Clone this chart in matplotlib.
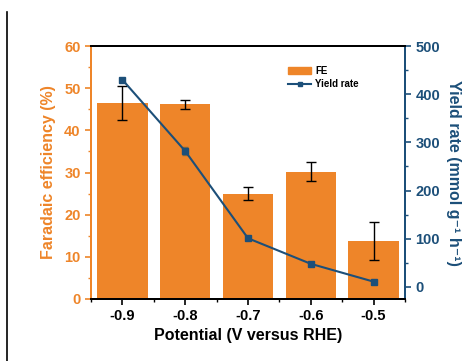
import matplotlib
matplotlib.use("Agg")
import matplotlib.pyplot as plt
from matplotlib.ticker import MultipleLocator
from matplotlib.lines import Line2D

plt.rcParams['font.family'] = ['Liberation Sans', 'DejaVu Sans']
plt.rcParams['font.weight'] = 'bold'

potentials = [-0.9, -0.8, -0.7, -0.6, -0.5]
fe = [46.5, 46.2, 25.0, 30.2, 13.8]
fe_err = [4.0, 1.1, 1.6, 2.2, 4.5]
yield_rate = [430, 282, 101, 48, 11]
yield_err = [4, 8, 3, 3, 3]

orange = '#EE8529'
blue = '#1C4F79'

fig = plt.figure(figsize=(4.64, 3.61), dpi=100)
ax = fig.add_axes([91/464, 1-299/361, (405-91)/464, (299-46)/361])
ax2 = ax.twinx()

ax.bar(potentials, fe, width=0.08, color=orange, zorder=2, label='FE')
ax.errorbar(potentials, fe, yerr=fe_err, fmt='none', ecolor='black',
            elinewidth=1.0, capsize=3.5, capthick=1.0, zorder=3)
ax2.errorbar(potentials, yield_rate, yerr=yield_err, color=blue, lw=1.5,
             marker='s', ms=4.5, mec=blue, mfc=blue, ecolor='#8a6a3a',
             elinewidth=0.8, capsize=2, zorder=4)

ax.set_xlim(-0.95, -0.45)
ax.set_ylim(0, 60)
ax2.set_ylim(-25, 500)
ax.set_xticks(potentials)
ax.set_xticklabels(['-0.9', '-0.8', '-0.7', '-0.6', '-0.5'])
ax.xaxis.set_minor_locator(MultipleLocator(0.05))
ax.yaxis.set_major_locator(MultipleLocator(10))
ax.yaxis.set_minor_locator(MultipleLocator(5))
ax2.yaxis.set_major_locator(MultipleLocator(100))
ax2.yaxis.set_minor_locator(MultipleLocator(50))

for a in (ax, ax2):
    a.tick_params(which='major', direction='out', length=4, width=1.2)
    a.tick_params(which='minor', direction='out', length=2.5, width=1.0)

ax.tick_params(axis='y', which='both', colors=orange, labelsize=10.5)
ax.tick_params(axis='x', which='both', colors='black', labelsize=10.5)
ax2.tick_params(axis='y', which='both', colors=blue, labelsize=10.5)

for a in (ax, ax2):
    a.spines['left'].set_color(orange)
    a.spines['right'].set_color(blue)
    a.spines['top'].set_color('black')
    a.spines['bottom'].set_color('black')
    for s in a.spines.values():
        s.set_linewidth(1.4)

for lab in ax.get_yticklabels() + ax.get_xticklabels() + ax2.get_yticklabels():
    lab.set_fontweight('bold')

ax.set_xlabel('Potential (V versus RHE)', fontsize=11.5, fontweight='bold', labelpad=3)
ax.set_ylabel('Faradaic efficiency (%)', fontsize=11.5, fontweight='bold', color=orange, labelpad=6)
ax2.set_ylabel('Yield rate (mmol g\u207b\u00b9 h\u207b\u00b9)', fontsize=11.5,
               fontweight='bold', color=blue, rotation=270, labelpad=15)

handles = [plt.Rectangle((0, 0), 1, 1, color=orange),
           Line2D([], [], color=blue, lw=1.5, marker='s', ms=3)]
leg = ax.legend(handles, ['FE', 'Yield rate'], loc='upper left',
                bbox_to_anchor=(0.6, 0.955), frameon=False,
                prop={'size': 7, 'weight': 'bold'}, handlelength=2.4,
                handletextpad=0.4, labelspacing=0.3)

fig.add_artist(Line2D([7/464, 7/464], [0, 1-12/361], color='black', lw=1.2))

fig.savefig('out.png', dpi=100)
